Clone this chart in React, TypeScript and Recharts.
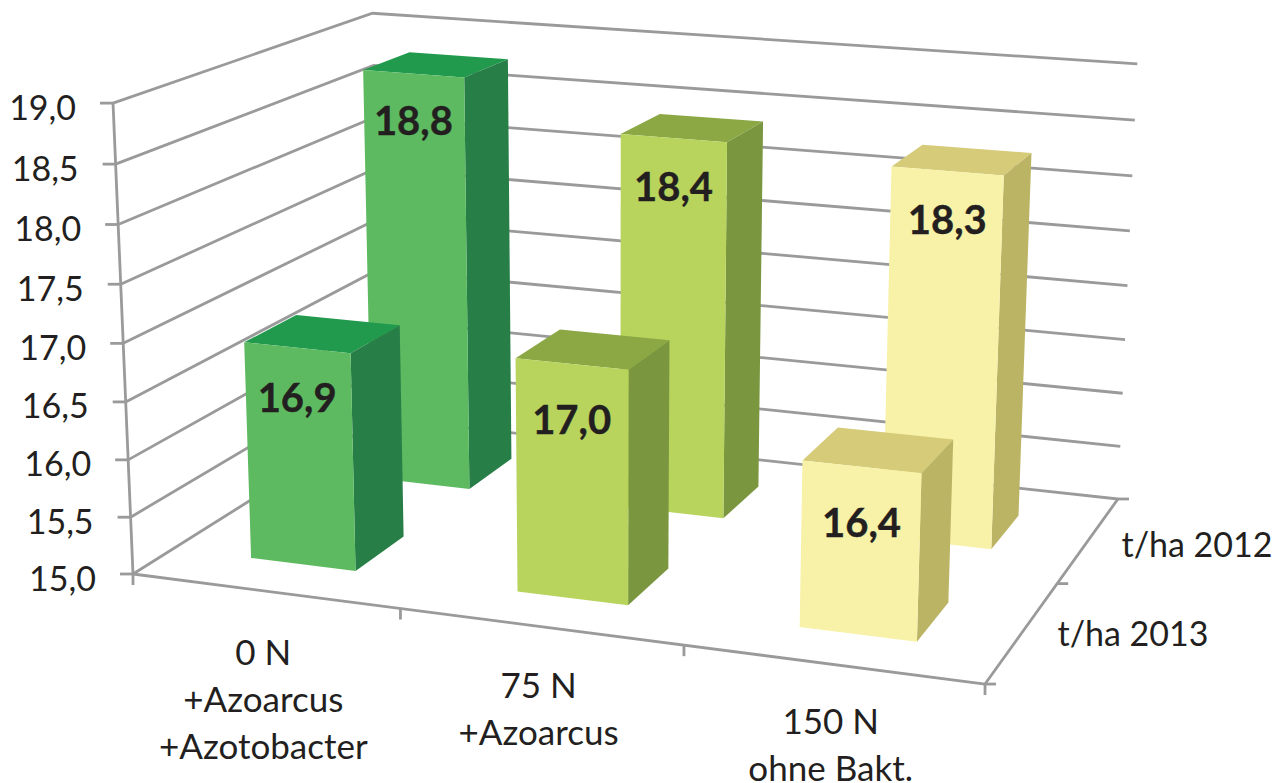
import React from 'react';
import { BarChart, Bar, XAxis, YAxis, CartesianGrid, Customized } from 'recharts';

const WIDTH = 1286;
const HEIGHT = 783;

const categories = ['0 N\n+Azoarcus\n+Azotobacter', '75 N\n+Azoarcus', '150 N\nohne Bakt.'];
const values2013 = [16.9, 17.0, 16.4];
const values2012 = [18.8, 18.4, 18.3];
const depthLabels = ['t/ha 2013', 't/ha 2012'];
const yTicks = [15, 15.5, 16, 16.5, 17, 17.5, 18, 18.5, 19];

const frontColors = ['#5dba60', '#b8d45c', '#f8f2a8'];
const topColors = ['#229a4e', '#8ba845', '#d6cb78'];
const sideColors = ['#277f47', '#7a9740', '#bcb465'];

const LINE = '#9a9a9a';
const TEXT = '#231f20';
const FONT = 'Lato, Carlito, sans-serif';
const GAP = '30%'; // per side of the band
const DOMAIN: [number, number] = [15, 19];

const chartData = categories.map((name, i) => ({
  name,
  t2013: values2013[i],
  t2012: values2012[i],
}));

// camera: u along categories, v into the depth, w up the value axis (all 0..1)
const project = (u: number, v: number, w: number): [number, number] => {
  const d = 1 - 0.085 * u + 0.171 * v - 0.04 * w;
  return [
    (133 + 768.3 * u + 312.8 * v - 24.5 * w) / d,
    (574 + 51.9 * u - 84 * v - 475 * w) / d,
  ];
};

const points = (...corners: [number, number, number][]) =>
  corners.map(([u, v, w]) => project(u, v, w).join(',')).join(' ');

const PrismBar = (props: any) => {
  const { x, y, width, index, payload, dataKey, depth, labelDrop } = props;
  const [v0, v1] = depth;
  const u0 = x / WIDTH;
  const u1 = (x + width) / WIDTH;
  const top = 1 - y / HEIGHT;
  const [labelX, labelY] = project((u0 + u1) / 2, v0, top);
  return (
    <g>
      <polygon points={points([u0, v0, top], [u1, v0, top], [u1, v1, top], [u0, v1, top])} fill={topColors[index]} />
      <polygon points={points([u1, v0, 0], [u1, v1, 0], [u1, v1, top], [u1, v0, top])} fill={sideColors[index]} />
      <polygon points={points([u0, v0, 0], [u1, v0, 0], [u1, v0, top], [u0, v0, top])} fill={frontColors[index]} />
      <text
        x={labelX}
        y={labelY + labelDrop[index]}
        textAnchor="middle"
        dominantBaseline="central"
        fontFamily={FONT}
        fontWeight={700}
        fontSize={40}
        stroke={TEXT}
        strokeWidth={0.4}
        fill={TEXT}
      >
        {payload[dataKey].toFixed(1).replace('.', ',')}
      </text>
    </g>
  );
};

const GridLine = (props: any) => {
  const w = 1 - props.y1 / HEIGHT;
  return (
    <polyline
      key={props.key ?? props.index}
      points={points([0, 0, w], [0, 1, w], [1, 1, w])}
      fill="none"
      stroke={LINE}
      strokeWidth={2.8}
    />
  );
};

const Frame = () => {
  const seg = (a: [number, number], b: [number, number], key: string) => (
    <line key={key} x1={a[0]} y1={a[1]} x2={b[0]} y2={b[1]} stroke={LINE} strokeWidth={2.8} />
  );
  const corner = project(1, 0, 0);
  const labelAt = [
    [1133, 632],
    [1197, 543],
  ];
  return (
    <g>
      {seg(project(0, 0, 0), project(0, 0, 1), 'left')}
      {seg(project(0, 0, 0), corner, 'floorFront')}
      {seg(corner, project(1, 1, 0), 'floorRight')}
      {categories.map((_, i) => {
        const p = project((i + 1) / categories.length, 0, 0);
        return seg(p, [p[0], p[1] + 11], `xt${i}`);
      })}
      {seg(project(0, 0, 0), [project(0, 0, 0)[0], project(0, 0, 0)[1] + 11], 'xt0')}
      {[0, 0.5, 1].map((v) => {
        const p = project(1, v, 0);
        return seg(p, [p[0] + 11, p[1]], `zt${v}`);
      })}
      {depthLabels.map((label, i) => (
        <text
          key={label}
          x={labelAt[i][0]}
          y={labelAt[i][1]}
          textAnchor="middle"
          dominantBaseline="central"
          fontFamily={FONT}
          fontSize={34}
          fill={TEXT}
        >
          {label}
        </text>
      ))}
    </g>
  );
};

const ValueTick = (props: any) => {
  const w = 1 - props.y / HEIGHT;
  const [px, py] = project(0, 0, w);
  return (
    <g>
      <line x1={px - 13} y1={py} x2={px} y2={py} stroke={LINE} strokeWidth={2.8} />
      <text
        x={px - 37}
        y={py + 3}
        textAnchor="end"
        dominantBaseline="central"
        fontFamily={FONT}
        fontSize={34}
        fill={TEXT}
      >
        {Number(props.payload.value).toFixed(1).replace('.', ',')}
      </text>
    </g>
  );
};

const CategoryTick = (props: any) => {
  const u = props.x / WIDTH;
  const [px, py] = project(u, 0, 0);
  return (
    <text textAnchor="middle" fontFamily={FONT} fontSize={35} fill={TEXT}>
      {String(props.payload.value)
        .split('\n')
        .map((line, i) => (
          <tspan key={line} x={px - 1.5} y={py + 60.5 - 6 * u + i * 47} dominantBaseline="central">
            {line}
          </tspan>
        ))}
    </text>
  );
};

const layer: React.CSSProperties = { position: 'absolute', left: 0, top: 0 };

// the two years stand behind each other, not side by side, so each gets its own chart layer
export default function App() {
  return (
    <div style={{ ...layer, width: WIDTH, height: HEIGHT }}>
      <div style={layer}>
        <BarChart
          width={WIDTH}
          height={HEIGHT}
          data={chartData}
          margin={{ top: 0, right: 0, bottom: -1, left: -1 }}
          barCategoryGap={GAP}
        >
          <XAxis dataKey="name" height={1} interval={0} axisLine={false} tickLine={false} tick={CategoryTick} />
          <YAxis domain={DOMAIN} ticks={yTicks} width={1} interval={0} axisLine={false} tickLine={false} tick={ValueTick} />
          <CartesianGrid vertical={false} horizontal={GridLine} />
          <Customized component={Frame} />
          <Bar
            dataKey="t2012"
            isAnimationActive={false}
            shape={(p: any) => <PrismBar {...p} depth={[0.637, 0.84]} labelDrop={[46, 48, 48]} />}
          />
        </BarChart>
      </div>
      <div style={layer}>
        <BarChart
          width={WIDTH}
          height={HEIGHT}
          data={chartData}
          margin={{ top: 0, right: 0, bottom: 0, left: 0 }}
          barCategoryGap={GAP}
        >
          <XAxis dataKey="name" hide />
          <YAxis domain={DOMAIN} hide />
          <Bar
            dataKey="t2013"
            isAnimationActive={false}
            shape={(p: any) => <PrismBar {...p} depth={[0.145, 0.343]} labelDrop={[49, 55, 55]} />}
          />
        </BarChart>
      </div>
    </div>
  );
}
